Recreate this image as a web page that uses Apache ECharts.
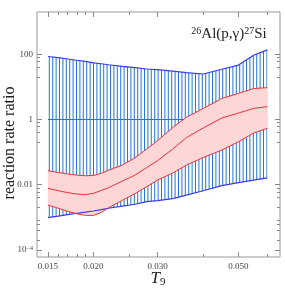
<!DOCTYPE html>
<html><head><meta charset="utf-8">
<script src="https://cdn.jsdelivr.net/npm/echarts@6/dist/echarts.min.js"></script>
<style>html,body{margin:0;padding:0;background:#fff}#c{width:285px;height:289px}</style>
</head><body><div id="c"></div>
<script>
// ---- data ----
const T9 = [0.015,0.016,0.017,0.018,0.019,0.020,0.021,0.022,0.024,0.026,0.028,0.030,0.033,0.036,0.040,0.045,0.050,0.055,0.060];
const blueUpper = [86,79,72,66,61,55,51.5,48,43,39,35.5,34,30.5,27.5,25,35,47,94,137];
const blueLower = [9.7e-4,1.08e-3,1.2e-3,1.32e-3,1.43e-3,1.55e-3,1.7e-3,1.88e-3,2.2e-3,2.5e-3,3.0e-3,3.22e-3,3.73e-3,4.75e-3,6.5e-3,9.3e-3,0.0115,0.0138,0.0162];
const redUpper = [0.0268,0.0237,0.0213,0.0196,0.0187,0.0192,0.0222,0.0279,0.0398,0.0668,0.125,0.226,0.567,1.18,2.18,4.43,6.35,8.93,9.51];
const redMedian = [7.64e-3,6.53e-3,5.67e-3,5.15e-3,4.95e-3,5.4e-3,6.6e-3,8.09e-3,0.0128,0.0196,0.0334,0.0548,0.124,0.279,0.548,1.11,1.58,2.18,2.48];
const redLower = [2.37e-3,1.89e-3,1.51e-3,1.27e-3,1.14e-3,1.13e-3,1.4e-3,1.95e-3,3.3e-3,5.28e-3,8.68e-3,0.0138,0.0226,0.0398,0.0678,0.115,0.206,0.384,0.536];
const unityValue = 1;
const xMajorTicks = [0.015,0.020,0.030,0.050];
const xMinorTicks = [0.016,0.017,0.018,0.019,0.025,0.040,0.060];
const yMajorTicks = [1e-4,0.01,1,100];
const yMinorTicks = [2e-4,4e-4,6e-4,8e-4,2e-3,4e-3,6e-3,8e-3,0.2,0.4,0.6,0.8,20,40,60,80];

const SERIF = '"Liberation Serif", "DejaVu Serif", serif';
const n = T9.length;
const pairs = a => T9.map((t,i)=>[t,a[i]]);

function hatchPattern(){
  const c = document.createElement('canvas');
  c.width = 17; c.height = 4;
  const g = c.getContext('2d');
  g.fillStyle = 'rgb(30,118,226)';
  for (let k=0;k<5;k++) g.fillRect(1.7+3.4*k-0.5,0,1,4);
  return c;
}
const hatch = {image: hatchPattern(), repeat: 'repeat'};

function bandSeries(lo, hi, fill, z){
  return {
    type:'custom', z:z, silent:true, animation:false,
    data: T9.map((t,i)=>[t, lo[i], hi[i]]),
    encode:{x:0, y:[1,2]},
    renderItem:function(params, api){
      if (params.dataIndex !== 0) return null;
      const pts = [];
      for (let i=0;i<n;i++) pts.push(api.coord([T9[i], hi[i]]));
      for (let i=n-1;i>=0;i--) pts.push(api.coord([T9[i], lo[i]]));
      return {type:'polygon', shape:{points:pts}, style:{fill:fill, stroke:null}};
    }
  };
}
function lineSeries(a, color, w, z){
  return {type:'line', data:pairs(a), showSymbol:false, symbol:'none', z:z, silent:true, animation:false,
          lineStyle:{color:color, width:w}};
}

const axisCommonX = (pos, ticks, len, labels) => ({
  type:'log', logBase:10, min:0.014, max:0.065, position:pos, gridIndex:0,
  axisLine:{show:false}, splitLine:{show:false}, minorTick:{show:false},
  axisTick:{show:true, inside:true, length:len, customValues:ticks, lineStyle:{color:'#8a8a8a', width:1}},
  axisLabel: labels ? {show:true, customValues:ticks, formatter:v=>Number(v).toFixed(3),
     fontFamily:SERIF, fontSize:9, color:'#444', margin:5} : {show:false}
});
function yFmt(v){
  v = Number(v);
  if (Math.abs(v-100)<1e-6) return '100';
  if (Math.abs(v-1)<1e-9) return '1';
  if (Math.abs(v-0.01)<1e-9) return '0.01';
  return '{a|10}{b|\u22124}';
}
const axisCommonY = (pos, ticks, len, labels) => ({
  type:'log', logBase:10, min:6e-5, max:2000, position:pos, gridIndex:0,
  axisLine:{show:false}, splitLine:{show:false}, minorTick:{show:false},
  axisTick:{show:true, inside:true, length:len, customValues:ticks, lineStyle:{color:'#8a8a8a', width:1}},
  axisLabel: labels ? {show:true, customValues:ticks, formatter:yFmt, fontFamily:SERIF, fontSize:9, color:'#444', margin:4,
     rich:{a:{fontFamily:SERIF,fontSize:9,color:'#444'}, b:{fontFamily:SERIF,fontSize:6,color:'#444',verticalAlign:'top'}}} : {show:false}
});

const chart = echarts.init(document.getElementById('c'), null, {renderer:'canvas'});
chart.setOption({
  animation:false,
  backgroundColor:'#fff',
  grid:{left:37, top:12, right:5, bottom:32, show:true, borderColor:'#999', borderWidth:1, backgroundColor:'transparent'},
  xAxis:[
    axisCommonX('bottom', xMajorTicks, 5, true),
    axisCommonX('bottom', xMinorTicks, 3, false),
    axisCommonX('top', xMajorTicks, 5, false),
    axisCommonX('top', xMinorTicks, 3, false)
  ],
  yAxis:[
    axisCommonY('left', yMajorTicks, 5, true),
    axisCommonY('left', yMinorTicks, 3, false),
    axisCommonY('right', yMajorTicks, 5, false),
    axisCommonY('right', yMinorTicks, 3, false)
  ],
  series:[
    bandSeries(blueLower, blueUpper, hatch, 1),
    {type:'line', data:[[T9[0],unityValue],[T9[n-1],unityValue]], showSymbol:false, symbol:'none', z:2, silent:true,
     lineStyle:{color:'#2a6ee0', width:1}},
    bandSeries(redLower, redUpper, '#ffd6d6', 3),
    lineSeries(blueUpper, '#3a3af2', 1.2, 4),
    lineSeries(blueLower, '#3a3af2', 1.2, 4),
    lineSeries(redUpper, '#e8303a', 1, 5),
    lineSeries(redMedian, '#e8303a', 1, 5),
    lineSeries(redLower, '#e8303a', 1, 5)
  ],
  graphic:[
    {type:'text', x:10, y:143, rotation:Math.PI/2, silent:true,
     style:{text:'reaction rate ratio', font:'16px '+SERIF, fill:'#222', align:'center', verticalAlign:'middle'}},
    {type:'text', x:158, y:279, silent:true,
     style:{text:'{t|T}{s|9}', align:'center', verticalAlign:'middle', fill:'#222',
       rich:{t:{font:'italic 17px '+SERIF, fill:'#222'}, s:{font:'11px '+SERIF, fill:'#222', verticalAlign:'bottom'}}}},
    {type:'text', x:229, y:34, silent:true,
     style:{text:'{s|26}{m|Al(p,\u03b3)}{s|27}{m|Si}', align:'center', verticalAlign:'middle', fill:'#222',
       rich:{m:{font:'15px '+SERIF, fill:'#222'}, s:{font:'10px '+SERIF, fill:'#222', verticalAlign:'top'}}}}
  ]
});
</script>
</body></html>
